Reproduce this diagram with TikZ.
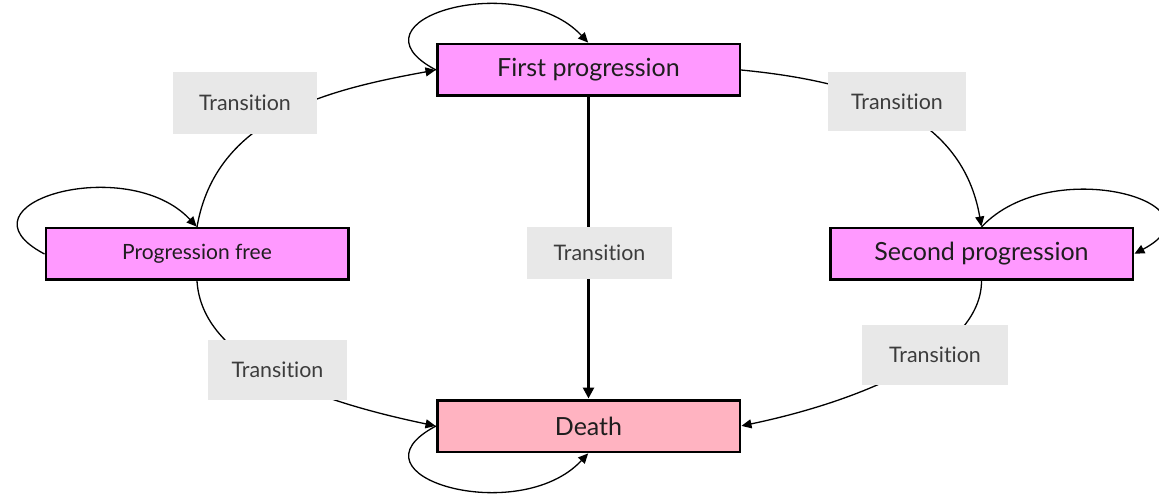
\documentclass[tikz,border=0pt]{standalone}
\usepackage{fontspec}
\setmainfont{Lato}[Ligatures={NoCommon,NoRare}]
\usetikzlibrary{arrows.meta}

\definecolor{stateFill}{HTML}{FF99FF}
\definecolor{deathFill}{HTML}{FFB3C1}
\definecolor{tagFill}{HTML}{E8E8E8}
\definecolor{tagText}{HTML}{3C3C3C}
\definecolor{boxText}{HTML}{1E1E1E}

\begin{document}
\begin{tikzpicture}[x=1pt,y=-1pt,
  statebox/.style={draw=black, line width=2.5pt, fill=stateFill, text=boxText,
    minimum width=302.5pt, minimum height=51.5pt, inner sep=0pt,
    font=\fontsize{25}{28}\selectfont},
  deathbox/.style={statebox, fill=deathFill},
  smallstate/.style={statebox, font=\fontsize{21}{24}\selectfont},
  tag/.style={fill=tagFill, text=tagText, inner sep=0pt,
    font=\fontsize{21.4}{24}\selectfont},
  link/.style={line width=1.3pt, -{Triangle[length=10pt,width=9pt]}, shorten >=0.5pt},
  mainlink/.style={line width=2.6pt, -{Triangle[length=11pt,width=11pt]}, shorten >=0.5pt},
]
\useasboundingbox (0,0) rectangle (1159,494);

% states
\node[statebox]   (fp)  at (588.5,70)  {First progression};
\node[smallstate] (pf)  at (197,254)   {Progression free};
\node[statebox]   (sp)  at (981.5,254) {Second progression};
\node[deathbox]   (dea) at (588.5,426) {Death};

% self loops
\draw[link] (pf.west) .. controls +(-95,-50) and +(-70,-75) .. (pf.north);
\draw[link] (fp.west) .. controls +(-95,-50) and +(-70,-75) .. (fp.north);
\draw[link] (dea.west) .. controls +(-95,50) and +(-70,75) .. (dea.south);
\draw[link] (sp.north) .. controls +(70,-75) and +(95,-50) .. (sp.east);

% transitions between states
\draw[link] (pf.north) .. controls +(19,-110) and +(-110,20) .. (fp.west);
\draw[link] (fp.east) .. controls +(125,12) and +(-19,-110) .. (sp.north);
\draw[link] (pf.south) .. controls +(5,80) and +(-120,-25) .. (dea.west);
\draw[link] (sp.south) .. controls +(0,70) and +(120,-25) .. (dea.east);
\draw[mainlink] (fp.south) -- (dea.north);

% transition labels
\node[tag, minimum width=144pt, minimum height=62pt] (t1) at (245,103)   {Transition};
\node[tag, minimum width=138pt, minimum height=59pt] (t2) at (897,101.5) {Transition};
\node[tag, minimum width=145pt, minimum height=52pt] (t3) at (599.5,253) {Transition};
\node[tag, minimum width=139pt, minimum height=60pt] (t4) at (277.5,370) {Transition};
\node[tag, minimum width=146pt, minimum height=60pt] (t5) at (935,355)   {Transition};
\end{tikzpicture}
\end{document}
